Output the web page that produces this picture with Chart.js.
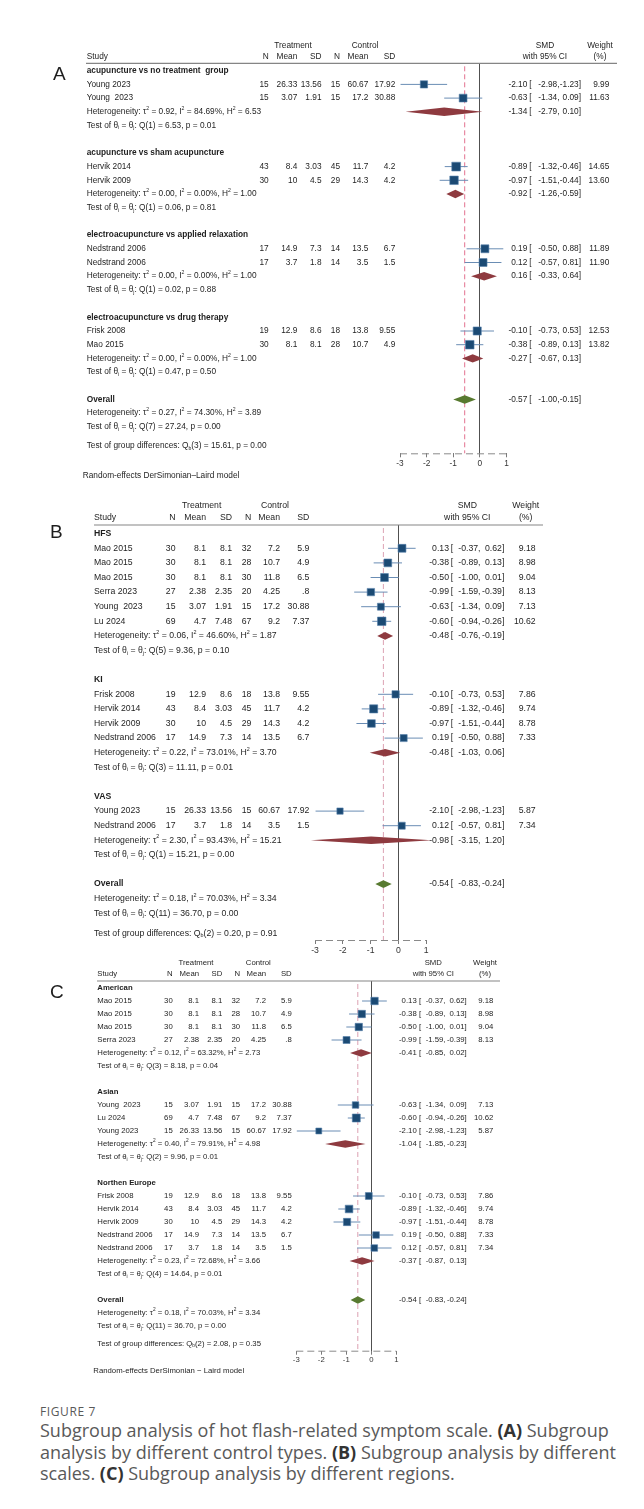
<!DOCTYPE html>
<html>
<head>
<meta charset="utf-8">
<script src="https://cdn.jsdelivr.net/npm/chart.js@4.4.1/dist/chart.umd.min.js"></script>
<style>
  body { margin: 0; background: #fff; width: 644px; height: 1509px; position: relative; overflow: hidden; }
  canvas { position: absolute; left: 0; }
  #caption { position: absolute; left: 40px; top: 1404px; font-family: 'Open Sans', sans-serif; color: #595959; white-space: nowrap; }
  #caption .fig { font-size: 12px; letter-spacing: 0.6px; line-height: 16px; }
  #caption .txt { font-size: 18px; letter-spacing: 0; line-height: 21.5px; }
  #caption b { color: #333; }
</style>
</head>
<body>
<canvas id="forestA" width="644" height="450" style="top:35px"></canvas>
<canvas id="forestB" width="644" height="470" style="top:488px"></canvas>
<canvas id="forestC" width="644" height="432" style="top:955px"></canvas>
<div id="caption">
  <div class="fig">FIGURE 7</div>
  <div class="txt">Subgroup analysis of hot flash-related symptom scale. <b>(A)</b> Subgroup<br>analysis by different control types. <b>(B)</b> Subgroup analysis by different<br>scales. <b>(C)</b> Subgroup analysis by different regions.</div>
</div>
<script>
// ---- A: by control type ----
const aGroups = ['acupuncture vs no treatment  group', 'acupuncture vs sham acupuncture', 'electroacupuncture vs applied relaxation', 'electroacupuncture vs drug therapy'];
const aGroupSize = [2, 2, 2, 2];
const aStudy = ['Young 2023', 'Young  2023', 'Hervik 2014', 'Hervik 2009', 'Nedstrand 2006', 'Nedstrand 2006', 'Frisk 2008', 'Mao 2015'];
const aTrtN = [15, 15, 43, 30, 17, 17, 19, 30];
const aTrtMean = [26.33, 3.07, 8.4, 10, 14.9, 3.7, 12.9, 8.1];
const aTrtSD = [13.56, 1.91, 3.03, 4.5, 7.3, 1.8, 8.6, 8.1];
const aCtlN = [15, 15, 45, 29, 14, 14, 18, 28];
const aCtlMean = [60.67, 17.2, 11.7, 14.3, 13.5, 3.5, 13.8, 10.7];
const aCtlSD = [17.92, 30.88, 4.2, 4.2, 6.7, 1.5, 9.55, 4.9];
const aSmd = [-2.10, -0.63, -0.89, -0.97, 0.19, 0.12, -0.10, -0.38];
const aLo = [-2.98, -1.34, -1.32, -1.51, -0.50, -0.57, -0.73, -0.89];
const aHi = [-1.23, 0.09, -0.46, -0.44, 0.88, 0.81, 0.53, 0.13];
const aWeight = [9.99, 11.63, 14.65, 13.60, 11.89, 11.90, 12.53, 13.82];
const aSubSmd = [-1.34, -0.92, 0.16, -0.27];
const aSubLo = [-2.79, -1.26, -0.33, -0.67];
const aSubHi = [0.10, -0.59, 0.64, 0.13];
const aSubHet = [[0.92, 84.69, 6.53], [0.00, 0.00, 1.00], [0.00, 0.00, 1.00], [0.00, 0.00, 1.00]]; // tau2, I2, H2
const aSubQ = [[6.53, 0.01], [0.06, 0.81], [0.02, 0.88], [0.47, 0.50]];                         // Q, p
const aOverall = [-0.57, -1.00, -0.15];
const aOverallHet = [0.27, 74.30, 3.89];
const aOverallQ = [27.24, 0.00];
const aGroupDiff = [15.61, 0.00];

// ---- B: by scale ----
const bGroups = ['HFS', 'KI', 'VAS'];
const bGroupSize = [6, 4, 2];
const bStudy = ['Mao 2015', 'Mao 2015', 'Mao 2015', 'Serra 2023', 'Young  2023', 'Lu 2024', 'Frisk 2008', 'Hervik 2014', 'Hervik 2009', 'Nedstrand 2006', 'Young 2023', 'Nedstrand 2006'];
const bTrtN = [30, 30, 30, 27, 15, 69, 19, 43, 30, 17, 15, 17];
const bTrtMean = [8.1, 8.1, 8.1, 2.38, 3.07, 4.7, 12.9, 8.4, 10, 14.9, 26.33, 3.7];
const bTrtSD = [8.1, 8.1, 8.1, 2.35, 1.91, 7.48, 8.6, 3.03, 4.5, 7.3, 13.56, 1.8];
const bCtlN = [32, 28, 30, 20, 15, 67, 18, 45, 29, 14, 15, 14];
const bCtlMean = [7.2, 10.7, 11.8, 4.25, 17.2, 9.2, 13.8, 11.7, 14.3, 13.5, 60.67, 3.5];
const bCtlSD = [5.9, 4.9, 6.5, 0.8, 30.88, 7.37, 9.55, 4.2, 4.2, 6.7, 17.92, 1.5];
const bSmd = [0.13, -0.38, -0.50, -0.99, -0.63, -0.60, -0.10, -0.89, -0.97, 0.19, -2.10, 0.12];
const bLo = [-0.37, -0.89, -1.00, -1.59, -1.34, -0.94, -0.73, -1.32, -1.51, -0.50, -2.98, -0.57];
const bHi = [0.62, 0.13, 0.01, -0.39, 0.09, -0.26, 0.53, -0.46, -0.44, 0.88, -1.23, 0.81];
const bWeight = [9.18, 8.98, 9.04, 8.13, 7.13, 10.62, 7.86, 9.74, 8.78, 7.33, 5.87, 7.34];
const bSubSmd = [-0.48, -0.48, -0.98];
const bSubLo = [-0.76, -1.03, -3.15];
const bSubHi = [-0.19, 0.06, 1.20];
const bSubHet = [[0.06, 46.60, 1.87], [0.22, 73.01, 3.70], [2.30, 93.43, 15.21]];
const bSubQ = [[9.36, 0.10], [11.11, 0.01], [15.21, 0.00]];
const bOverall = [-0.54, -0.83, -0.24];
const bOverallHet = [0.18, 70.03, 3.34];
const bOverallQ = [36.70, 0.00];
const bGroupDiff = [0.20, 0.91];

// ---- C: by region ----
const cGroups = ['American', 'Asian', 'Northen Europe'];
const cGroupSize = [4, 3, 5];
const cStudy = ['Mao 2015', 'Mao 2015', 'Mao 2015', 'Serra 2023', 'Young  2023', 'Lu 2024', 'Young 2023', 'Frisk 2008', 'Hervik 2014', 'Hervik 2009', 'Nedstrand 2006', 'Nedstrand 2006'];
const cTrtN = [30, 30, 30, 27, 15, 69, 15, 19, 43, 30, 17, 17];
const cTrtMean = [8.1, 8.1, 8.1, 2.38, 3.07, 4.7, 26.33, 12.9, 8.4, 10, 14.9, 3.7];
const cTrtSD = [8.1, 8.1, 8.1, 2.35, 1.91, 7.48, 13.56, 8.6, 3.03, 4.5, 7.3, 1.8];
const cCtlN = [32, 28, 30, 20, 15, 67, 15, 18, 45, 29, 14, 14];
const cCtlMean = [7.2, 10.7, 11.8, 4.25, 17.2, 9.2, 60.67, 13.8, 11.7, 14.3, 13.5, 3.5];
const cCtlSD = [5.9, 4.9, 6.5, 0.8, 30.88, 7.37, 17.92, 9.55, 4.2, 4.2, 6.7, 1.5];
const cSmd = [0.13, -0.38, -0.50, -0.99, -0.63, -0.60, -2.10, -0.10, -0.89, -0.97, 0.19, 0.12];
const cLo = [-0.37, -0.89, -1.00, -1.59, -1.34, -0.94, -2.98, -0.73, -1.32, -1.51, -0.50, -0.57];
const cHi = [0.62, 0.13, 0.01, -0.39, 0.09, -0.26, -1.23, 0.53, -0.46, -0.44, 0.88, 0.81];
const cWeight = [9.18, 8.98, 9.04, 8.13, 7.13, 10.62, 5.87, 7.86, 9.74, 8.78, 7.33, 7.34];
const cSubSmd = [-0.41, -1.04, -0.37];
const cSubLo = [-0.85, -1.85, -0.87];
const cSubHi = [0.02, -0.23, 0.13];
const cSubHet = [[0.12, 63.32, 2.73], [0.40, 79.91, 4.98], [0.23, 72.68, 3.66]];
const cSubQ = [[8.18, 0.04], [9.96, 0.01], [14.64, 0.01]];
const cOverall = [-0.54, -0.83, -0.24];
const cOverallHet = [0.18, 70.03, 3.34];
const cOverallQ = [36.70, 0.00];
const cGroupDiff = [2.08, 0.35];

const FAMILY = "'Liberation Sans', Arial, sans-serif";
const AXIS_H = 14;

function fmtNum(v) { return String(v).replace(/^0\./, '.'); }

// draws text with superscripts / subscripts, parts are strings or [text, 'sup'|'sub']
function rich(ctx, parts, x, y, size) {
    let cx = x;
    parts.forEach(p => {
        const [s, m] = Array.isArray(p) ? p : [p, ''];
        ctx.font = (m ? size * 0.62 : size) + 'px ' + FAMILY;
        const off = m === 'sup' ? -size * 0.38 : (m === 'sub' ? size * 0.3 : 0);
        ctx.fillText(s, cx, y + off);
        cx += ctx.measureText(s).width;
    });
}
const hetParts = h => ['Heterogeneity: \u03c4', ['2', 'sup'], ' = ' + h[0].toFixed(2) + ', I', ['2', 'sup'], ' = ' + h[1].toFixed(2) + '%, H', ['2', 'sup'], ' = ' + h[2].toFixed(2)];
const testParts = (q, df) => ['Test of \u03b8', ['i', 'sub'], ' = \u03b8', ['j', 'sub'], ': Q(' + df + ') = ' + q[0].toFixed(2) + ', p = ' + q[1].toFixed(2)];
const diffParts = (q, df) => ['Test of group differences: Q', ['b', 'sub'], '(' + df + ') = ' + q[0].toFixed(2) + ', p = ' + q[1].toFixed(2)];

function layoutRows(groupSize) {
    let r = 0;
    const headRow = [], studyRow = [], hetRow = [];
    groupSize.forEach(n => {
        headRow.push(r++);
        for (let i = 0; i < n; i++) studyRow.push(r++);
        hetRow.push(r);
        r += 3;
    });
    return { headRow, studyRow, hetRow, overallRow: r };
}

function forest(id, d, st) {
    const L = layoutRows(d.groupSize);
    const yMin = (st.ruleY - st.row0) / st.dy;
    const yMax = (st.axisY - st.row0) / st.dy;

    const plugin = {
        id: 'forest',
        beforeDatasetsDraw(chart) {
            const { ctx, chartArea: ca, scales: { x, y } } = chart;
            ctx.save();
            // dashed x axis line
            ctx.strokeStyle = '#8a8a8a'; ctx.lineWidth = 1; ctx.setLineDash([7, 4]);
            ctx.beginPath(); ctx.moveTo(x.getPixelForValue(-3), ca.bottom + 0.5); ctx.lineTo(x.getPixelForValue(1), ca.bottom + 0.5); ctx.stroke();
            // dashed line at the overall effect
            const xr = x.getPixelForValue(d.overall[0]);
            ctx.strokeStyle = st.ref; ctx.setLineDash([5, 3]);
            ctx.beginPath(); ctx.moveTo(xr, ca.top + 3); ctx.lineTo(xr, ca.bottom); ctx.stroke();
            ctx.setLineDash([]);
            // confidence intervals
            ctx.strokeStyle = '#6a8db4';
            d.lo.forEach((lo, i) => {
                const yy = y.getPixelForValue(L.studyRow[i]);
                ctx.beginPath();
                ctx.moveTo(x.getPixelForValue(lo), yy);
                ctx.lineTo(x.getPixelForValue(d.hi[i]), yy);
                ctx.stroke();
            });
            const diamond = (est, lo, hi, row, color) => {
                const yy = y.getPixelForValue(row);
                ctx.fillStyle = color;
                ctx.beginPath();
                ctx.moveTo(x.getPixelForValue(lo), yy);
                ctx.lineTo(x.getPixelForValue(est), yy - st.dh);
                ctx.lineTo(x.getPixelForValue(hi), yy);
                ctx.lineTo(x.getPixelForValue(est), yy + st.dh);
                ctx.closePath(); ctx.fill();
            };
            d.subSmd.forEach((v, g) => diamond(v, d.subLo[g], d.subHi[g], L.hetRow[g], '#8e3a3f'));
            diamond(d.overall[0], d.overall[1], d.overall[2], L.overallRow, '#587a30');
            ctx.restore();
        },
        afterDraw(chart) {
            const { ctx, scales: { y } } = chart;
            const fs = st.font;
            const top = st.top;
            const Y = r => y.getPixelForValue(r);
            ctx.save();
            ctx.fillStyle = '#1e1e1e';
            ctx.textBaseline = 'middle';
            const T = (s, x, yy, align, bold, size) => {
                ctx.font = (bold ? 'bold ' : '') + (size || fs) + 'px ' + FAMILY;
                ctx.textAlign = align || 'left';
                ctx.fillText(s, x, yy);
            };
            const ci = (est, lo, hi, yy) => {
                T(est.toFixed(2), st.est, yy, 'right');
                T('[', st.brk, yy, 'left');
                T(lo.toFixed(2) + ',', st.lo, yy, 'right');
                T(hi.toFixed(2) + ']', st.hi, yy, 'right');
            };
            // panel letter
            T(st.letter, st.letterX, st.letterY - top, 'left', false, 19);
            // headers
            const h1 = st.hdr1 - top, h2 = st.hdr2 - top, c = st.cols;
            T('Treatment', st.trtC, h1, 'center');
            T('Control', st.ctlC, h1, 'center');
            T('SMD', st.smdC, h1, 'center');
            T('Weight', st.wtC, h1, 'center');
            T('Study', c[0], h2);
            ['N', 'Mean', 'SD', 'N', 'Mean', 'SD'].forEach((s, i) => T(s, c[i + 1], h2, 'right'));
            T('with 95% CI', st.smdC, h2, 'center');
            T('(%)', st.wtC, h2, 'center');
            ctx.strokeStyle = '#858585'; ctx.lineWidth = 1.2;
            ctx.beginPath(); ctx.moveTo(st.ruleX[0], st.ruleY - top); ctx.lineTo(st.ruleX[1], st.ruleY - top); ctx.stroke();
            // groups
            d.groups.forEach((g, k) => {
                T(g, c[0], Y(L.headRow[k]), 'left', true);
                const hy = Y(L.hetRow[k]);
                ctx.textAlign = 'left';
                rich(ctx, hetParts(d.subHet[k]), c[0], hy, fs);
                ci(d.subSmd[k], d.subLo[k], d.subHi[k], hy);
                ctx.textAlign = 'left';
                rich(ctx, testParts(d.subQ[k], d.groupSize[k] - 1), c[0], Y(L.hetRow[k] + 1), fs);
            });
            // studies
            d.study.forEach((s, i) => {
                const yy = Y(L.studyRow[i]);
                T(s, c[0], yy);
                [d.trtN[i], d.trtMean[i], d.trtSD[i], d.ctlN[i], d.ctlMean[i], d.ctlSD[i]]
                    .forEach((v, j) => T(fmtNum(v), c[j + 1], yy, 'right'));
                ci(d.smd[i], d.lo[i], d.hi[i], yy);
                T(d.weight[i].toFixed(2), st.wt, yy, 'right');
            });
            // overall
            const o = L.overallRow;
            T('Overall', c[0], Y(o), 'left', true);
            ci(d.overall[0], d.overall[1], d.overall[2], Y(o));
            ctx.textAlign = 'left';
            rich(ctx, hetParts(d.overallHet), c[0], Y(o + 1), fs);
            rich(ctx, testParts(d.overallQ, d.study.length - 1), c[0], Y(o + 2), fs);
            rich(ctx, diffParts(d.groupDiff, d.groups.length - 1), c[0], Y(o + 3.37), fs);
            if (st.note) T(st.note, st.noteX, st.noteY - top, 'left');
            ctx.restore();
        }
    };

    return new Chart(document.getElementById(id), {
        type: 'scatter',
        data: {
            datasets: [{
                data: d.smd.map((v, i) => ({ x: v, y: L.studyRow[i] })),
                pointStyle: 'rect',
                pointRadius: d.weight.map(w => st.sq * Math.sqrt(w) / Math.SQRT2),
                pointHoverRadius: d.weight.map(w => st.sq * Math.sqrt(w) / Math.SQRT2),
                backgroundColor: '#1b4a74',
                borderColor: '#5781ab',
                borderWidth: 0.6
            }]
        },
        options: {
            responsive: false,
            animation: false,
            events: [],
            layout: {
                padding: {
                    left: st.x0, right: 644 - st.x1,
                    top: st.ruleY - st.top,
                    bottom: st.h - (st.axisY - st.top) - AXIS_H
                }
            },
            plugins: { legend: { display: false }, tooltip: { enabled: false } },
            scales: {
                x: {
                    type: 'linear', min: -3, max: 1,
                    afterFit: s => { s.height = AXIS_H; },
                    ticks: { stepSize: 1, color: '#333', padding: 1, maxRotation: 0, font: { size: st.font, family: FAMILY } },
                    grid: {
                        color: ctx => (ctx.tick && ctx.tick.value === 0) ? '#505050' : 'rgba(0,0,0,0)',
                        tickColor: '#7a7a7a', tickLength: 4, lineWidth: 1
                    },
                    border: { display: false }
                },
                y: { type: 'linear', reverse: true, min: yMin, max: yMax, display: false }
            }
        },
        plugins: [plugin]
    });
}

forest('forestA', {
    groups: aGroups, groupSize: aGroupSize, study: aStudy,
    trtN: aTrtN, trtMean: aTrtMean, trtSD: aTrtSD, ctlN: aCtlN, ctlMean: aCtlMean, ctlSD: aCtlSD,
    smd: aSmd, lo: aLo, hi: aHi, weight: aWeight,
    subSmd: aSubSmd, subLo: aSubLo, subHi: aSubHi, subHet: aSubHet, subQ: aSubQ,
    overall: aOverall, overallHet: aOverallHet, overallQ: aOverallQ, groupDiff: aGroupDiff
}, {
    top: 35, h: 450, font: 8.3, ruleY: 63.3, axisY: 453.3, x0: 400, x1: 506.5, row0: 70.7, dy: 13.7,
    cols: [86.7, 268.7, 297.3, 321.5, 340, 368.3, 395.3], est: 527.3, brk: 529.3, lo: 559.5, hi: 581, wt: 609.3,
    hdr1: 45.7, hdr2: 56.7, trtC: 293, ctlC: 365, smdC: 545, wtC: 600, ruleX: [86, 617],
    letter: 'A', letterX: 53, letterY: 75,
    note: 'Random-effects DerSimonian\u2013Laird model', noteX: 82.7, noteY: 476,
    ref: '#e3728f', sq: 2.3, dh: 4.2
});

forest('forestB', {
    groups: bGroups, groupSize: bGroupSize, study: bStudy,
    trtN: bTrtN, trtMean: bTrtMean, trtSD: bTrtSD, ctlN: bCtlN, ctlMean: bCtlMean, ctlSD: bCtlSD,
    smd: bSmd, lo: bLo, hi: bHi, weight: bWeight,
    subSmd: bSubSmd, subLo: bSubLo, subHi: bSubHi, subHet: bSubHet, subQ: bSubQ,
    overall: bOverall, overallHet: bOverallHet, overallQ: bOverallQ, groupDiff: bGroupDiff
}, {
    top: 488, h: 470, font: 8.7, ruleY: 525, axisY: 940, x0: 315, x1: 426.2, row0: 533.7, dy: 14.6,
    cols: [94, 175.5, 206, 232, 251.3, 280, 309.3], est: 449, brk: 450.7, lo: 480.5, hi: 504.3, wt: 535.7,
    hdr1: 505.7, hdr2: 517.7, trtC: 201.7, ctlC: 275, smdC: 467.3, wtC: 525.7, ruleX: [94, 543],
    letter: 'B', letterX: 50, letterY: 533,
    ref: '#dca2b3', sq: 2.6, dh: 3.8
});

forest('forestC', {
    groups: cGroups, groupSize: cGroupSize, study: cStudy,
    trtN: cTrtN, trtMean: cTrtMean, trtSD: cTrtSD, ctlN: cCtlN, ctlMean: cCtlMean, ctlSD: cCtlSD,
    smd: cSmd, lo: cLo, hi: cHi, weight: cWeight,
    subSmd: cSubSmd, subLo: cSubLo, subHi: cSubHi, subHet: cSubHet, subQ: cSubQ,
    overall: cOverall, overallHet: cOverallHet, overallQ: cOverallQ, groupDiff: cGroupDiff
}, {
    top: 955, h: 432, font: 7.75, ruleY: 981, axisY: 1350.7, x0: 296.3, x1: 396.3, row0: 988, dy: 13,
    cols: [97.3, 172.7, 199, 222.3, 240, 266, 291.7], est: 416.7, brk: 419, lo: 445.5, hi: 466.7, wt: 493.3,
    hdr1: 963.3, hdr2: 974, trtC: 196, ctlC: 258.3, smdC: 433.3, wtC: 485, ruleX: [97, 500],
    letter: 'C', letterX: 50, letterY: 993,
    note: 'Random-effects DerSimonian \u2212 Laird model', noteX: 93.3, noteY: 1371,
    ref: '#dca2b3', sq: 2.45, dh: 3.7
});
</script>
</body>
</html>
